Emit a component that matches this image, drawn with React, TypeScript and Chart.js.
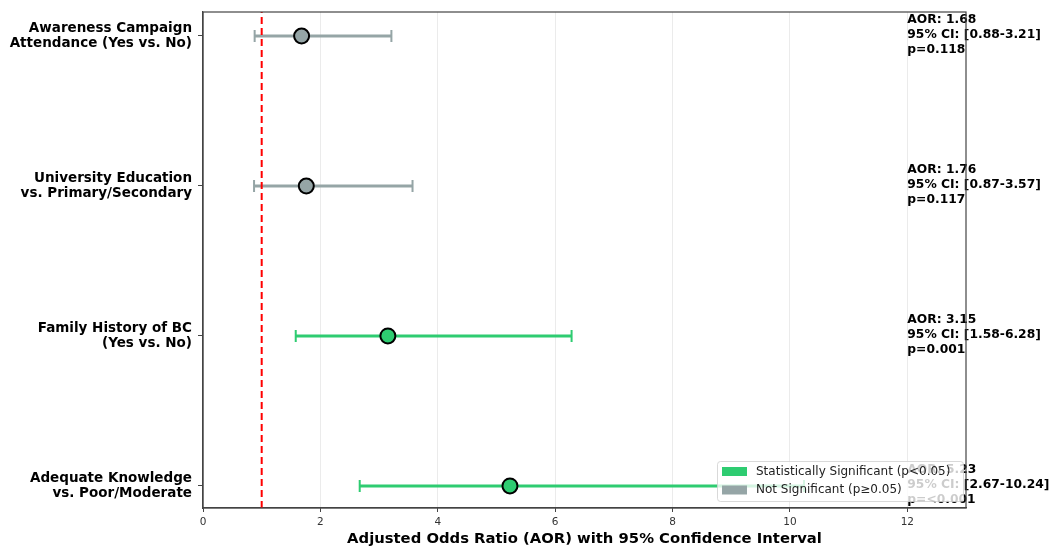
import React, { useEffect, useRef } from "react";
import { Chart, registerables } from "chart.js";

Chart.register(...registerables);

const categories: string[][] = [
  ["Awareness Campaign", "Attendance (Yes vs. No)"],
  ["University Education", "vs. Primary/Secondary"],
  ["Family History of BC", "(Yes vs. No)"],
  ["Adequate Knowledge", "vs. Poor/Moderate"],
];
const aor: number[] = [1.68, 1.76, 3.15, 5.23];
const ciLower: number[] = [0.88, 0.87, 1.58, 2.67];
const ciUpper: number[] = [3.21, 3.57, 6.28, 10.24];
const pLabels: string[] = ["p=0.118", "p=0.117", "p=0.001", "p=<0.001"];
const significant: boolean[] = [false, false, true, true];
const xTicks: number[] = [0, 2, 4, 6, 8, 10, 12];
const refLine = 1;
const annotationX = 12;

const GREEN = "#2ecc71";
const GRAY = "#95a5a6";
const FONT = "'DejaVu Sans', sans-serif";

export default function App() {
  const ref = useRef<HTMLCanvasElement | null>(null);

  useEffect(() => {
    document.body.style.margin = "0";
    const canvas = ref.current;
    if (!canvas) return;

    const errorBars = {
      id: "errorBars",
      beforeDatasetsDraw(chart: any) {
        const { ctx } = chart;
        const xs = chart.scales.x;
        const ys = chart.scales.y;
        ctx.save();
        aor.forEach((_, i) => {
          const y = ys.getPixelForValue(i);
          const x1 = xs.getPixelForValue(ciLower[i]);
          const x2 = xs.getPixelForValue(ciUpper[i]);
          ctx.strokeStyle = significant[i] ? GREEN : GRAY;
          ctx.lineWidth = 3;
          ctx.beginPath();
          ctx.moveTo(x1, y);
          ctx.lineTo(x2, y);
          ctx.stroke();
          ctx.lineWidth = 2;
          ctx.beginPath();
          ctx.moveTo(x1, y - 6);
          ctx.lineTo(x1, y + 6);
          ctx.moveTo(x2, y - 6);
          ctx.lineTo(x2, y + 6);
          ctx.stroke();
        });
        ctx.restore();
      },
    };

    const overlay = {
      id: "overlay",
      afterDraw(chart: any) {
        const { ctx, chartArea } = chart;
        const xs = chart.scales.x;
        const ys = chart.scales.y;
        ctx.save();
        // annotations
        ctx.font = `bold 12.3px ${FONT}`;
        ctx.fillStyle = "#000";
        ctx.textAlign = "left";
        ctx.textBaseline = "middle";
        aor.forEach((v, i) => {
          const x = xs.getPixelForValue(annotationX);
          const y = ys.getPixelForValue(i) - 1;
          ctx.fillText(`AOR: ${v.toFixed(2)}`, x, y - 15);
          ctx.fillText(`95% CI: [${ciLower[i].toFixed(2)}-${ciUpper[i].toFixed(2)}]`, x, y);
          ctx.fillText(pLabels[i], x, y + 15);
        });
        // legend
        const lx = 717, ly = 461, lw = 246, lh = 40;
        ctx.globalAlpha = 0.8;
        ctx.fillStyle = "#fff";
        ctx.strokeStyle = "#d0d0d0";
        ctx.lineWidth = 1;
        ctx.beginPath();
        (ctx as any).roundRect(lx + 0.5, ly + 0.5, lw, lh, 3);
        ctx.fill();
        ctx.stroke();
        ctx.globalAlpha = 1;
        const items = [
          { label: "Statistically Significant (p<0.05)", color: GREEN },
          { label: "Not Significant (p≥0.05)", color: GRAY },
        ];
        ctx.font = `12px ${FONT}`;
        items.forEach((it, k) => {
          const cy = ly + 10.5 + k * 18.5;
          ctx.fillStyle = it.color;
          ctx.fillRect(lx + 5, cy - 4.5, 25, 9);
          ctx.fillStyle = "#222";
          ctx.fillText(it.label, lx + 39, cy);
        });
        // spines
        ctx.strokeStyle = "#444";
        ctx.lineWidth = 1.2;
        ctx.strokeRect(chartArea.left, chartArea.top, chartArea.right - chartArea.left, chartArea.bottom - chartArea.top);
        ctx.restore();
      },
    };

    const chart = new Chart(canvas, {
      type: "scatter",
      data: {
        datasets: [
          {
            type: "line",
            data: [
              { x: refLine, y: -0.2 },
              { x: refLine, y: 3.2 },
            ],
            borderColor: "#ff0000",
            borderWidth: 2,
            borderDash: [7, 4],
            pointRadius: 0,
            order: 1,
          } as any,
          {
            type: "scatter",
            data: aor.map((v, i) => ({ x: v, y: i })),
            pointRadius: 7.5,
            pointHoverRadius: 7.5,
            pointBackgroundColor: significant.map((s) => (s ? GREEN : GRAY)),
            pointBorderColor: "#000",
            pointBorderWidth: 2,
            order: 0,
          },
        ],
      },
      options: {
        responsive: false,
        animation: false,
        events: [],
        layout: { padding: { top: 12, right: 83, left: 0, bottom: 0 } },
        plugins: {
          legend: { display: false },
          tooltip: { enabled: false },
        },
        scales: {
          x: {
            type: "linear",
            min: 0,
            max: 13,
            afterBuildTicks: (axis: any) => {
              axis.ticks = xTicks.map((v) => ({ value: v }));
            },
            afterFit: (axis: any) => {
              axis.height = 38;
              axis.paddingLeft = 0;
              axis.paddingRight = 0;
            },
            grid: {
              color: "#ebebeb",
              lineWidth: 1,
              tickColor: "#444",
              tickLength: 4,
            },
            border: { color: "#444", width: 1.2 },
            ticks: {
              font: { family: FONT, size: 10.5 },
              color: "#333",
              padding: 4,
              maxRotation: 0,
            },
            title: {
              display: true,
              text: "Adjusted Odds Ratio (AOR) with 95% Confidence Interval",
              font: { family: FONT, size: 14.8, weight: "bold" },
              color: "#000",
              padding: { top: 0, bottom: -2 },
            },
          },
          y: {
            type: "linear",
            reverse: true,
            min: -0.16,
            max: 3.147,
            afterBuildTicks: (axis: any) => {
              axis.ticks = categories.map((_, i) => ({ value: i }));
            },
            afterFit: (axis: any) => {
              axis.width = 203;
              axis.paddingTop = 0;
              axis.paddingBottom = 0;
            },
            grid: {
              drawOnChartArea: false,
              tickColor: "#444",
              tickLength: 5,
            },
            border: { color: "#444", width: 1.2 },
            ticks: {
              callback: (v: any) => categories[Math.round(Number(v))] ?? "",
              font: { family: FONT, size: 13.5, weight: "bold", lineHeight: 1.12 },
              color: "#000",
              padding: 6,
            },
          },
        },
      },
      plugins: [errorBars, overlay],
    });

    return () => chart.destroy();
  }, []);

  return (
    <div style={{ width: 1049, height: 546 }}>
      <canvas ref={ref} width={1049} height={546} />
    </div>
  );
}
